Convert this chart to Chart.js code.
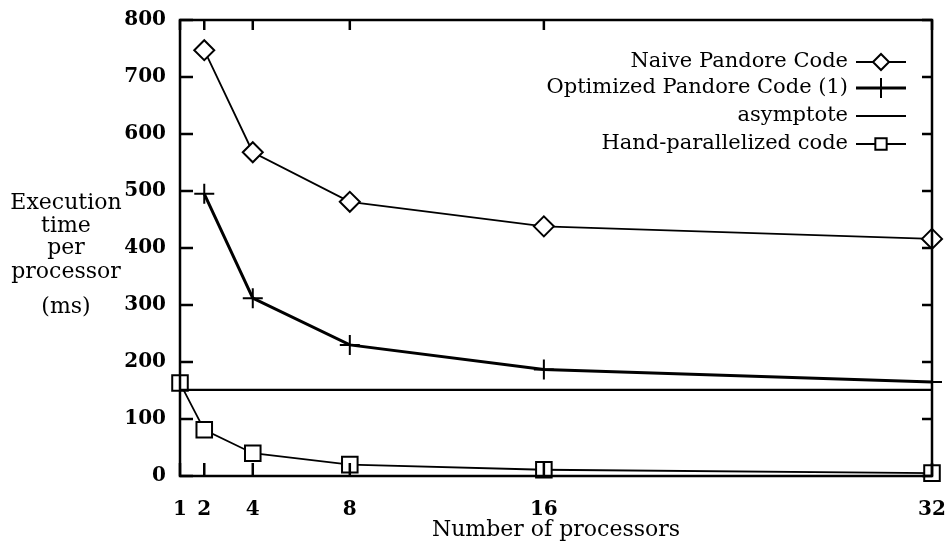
<!DOCTYPE html>
<html>
<head>
<meta charset="utf-8">
<script src="https://cdn.jsdelivr.net/npm/chart.js@4/dist/chart.umd.min.js"></script>
<style>
  html, body { margin: 0; padding: 0; background: #fff; }
  #wrap { width: 949px; height: 545px; }
</style>
</head>
<body>
<div id="wrap"><canvas id="perf"></canvas></div>
<script>
// values
const processors = [1, 2, 4, 8, 16, 32];
const naiveProcs = [2, 4, 8, 16, 32];
const naiveTimes = [747, 568, 481, 438, 416];
const optimizedProcs = [2, 4, 8, 16, 32];
const optimizedTimes = [495, 312, 230, 187, 165];
const asymptoteProcs = [1, 32];
const asymptoteTimes = [151, 151];
const handProcs = [1, 2, 4, 8, 16, 32];
const handTimes = [163, 81, 40, 20, 11, 5];
const yTicks = [0, 100, 200, 300, 400, 500, 600, 700, 800];

const FONT = "'DejaVu Serif', serif";

function pts(xs, ys) {
    return xs.map(function (x, i) { return { x: x, y: ys[i] }; });
}

// frame, inward ticks, y title and legend drawn on top
const decor = {
    id: "decor",
    afterDraw: function (chart) {
        const ctx = chart.ctx;
        const a = chart.chartArea;
        const xs = chart.scales.x, ys = chart.scales.y;
        ctx.save();
        ctx.strokeStyle = "#000";
        ctx.lineWidth = 2.5;
        ctx.strokeRect(a.left, a.top, a.right - a.left, a.bottom - a.top);

        ctx.beginPath();
        processors.forEach(function (p) {
            let px = xs.getPixelForValue(p);
            ctx.moveTo(px, a.bottom); ctx.lineTo(px, a.bottom - 13);
            ctx.moveTo(px, a.top); ctx.lineTo(px, a.top + 10);
        });
        yTicks.forEach(function (v) {
            let py = ys.getPixelForValue(v);
            ctx.moveTo(a.left, py); ctx.lineTo(a.left + 13, py);
            ctx.moveTo(a.right, py); ctx.lineTo(a.right - 10, py);
        });
        ctx.stroke();

        // y axis title, horizontal lines of text
        ctx.fillStyle = "#000";
        ctx.font = "22px " + FONT;
        ctx.textAlign = "center";
        ctx.textBaseline = "middle";
        [["Execution", 203], ["time", 226], ["per", 248], ["processor", 272], ["(ms)", 307]].forEach(function (l) {
            ctx.fillText(l[0], 66, l[1]);
        });

        // legend: text right aligned, sample on the right
        const rows = [62, 88, 116, 144];
        chart.data.datasets.forEach(function (ds, i) {
            let y = rows[i];
            ctx.fillStyle = "#000";
            ctx.font = "21px " + FONT;
            ctx.textAlign = "right";
            ctx.fillText(ds.label, 848, y);
            ctx.lineWidth = ds.borderWidth;
            ctx.beginPath();
            ctx.moveTo(856, y); ctx.lineTo(906, y);
            ctx.stroke();
            if (ds.pointRadius > 0) {
                ctx.fillStyle = "#fff";
                ctx.lineWidth = 2;
                Chart.helpers.drawPoint(ctx, {
                    pointStyle: ds.pointStyle,
                    radius: ds.pointStyle === "cross" ? 10 : 8,
                    rotation: 0,
                    borderWidth: 2
                }, 881, y);
            }
        });
        ctx.restore();
    }
};

let perf = new Chart(document.getElementById("perf"), {
    type: "line",
    data: {
        datasets: [
            {
                label: "Naive Pandore Code",
                data: pts(naiveProcs, naiveTimes),
                borderColor: "#000",
                borderWidth: 1.8,
                pointStyle: "rectRot",
                pointRadius: 10,
                pointBorderWidth: 2,
                pointBackgroundColor: "#fff",
                pointBorderColor: "#000",
                clip: false,
            },
            {
                label: "Optimized Pandore Code (1)",
                data: pts(optimizedProcs, optimizedTimes),
                borderColor: "#000",
                borderWidth: 3,
                pointStyle: "cross",
                pointRadius: 10,
                pointBorderWidth: 2,
                pointBorderColor: "#000",
                clip: false,
            },
            {
                label: "asymptote",
                data: pts(asymptoteProcs, asymptoteTimes),
                borderColor: "#000",
                borderWidth: 2.2,
                pointRadius: 0,
                clip: false,
            },
            {
                label: "Hand-parallelized code",
                data: pts(handProcs, handTimes),
                borderColor: "#000",
                borderWidth: 1.8,
                pointStyle: "rect",
                pointRadius: 11,
                pointBorderWidth: 2,
                pointBackgroundColor: "#fff",
                pointBorderColor: "#000",
                clip: false,
            },
        ],
    },
    options: {
        responsive: true,
        maintainAspectRatio: false,
        animation: false,
        layout: { padding: { top: 20, right: 17, left: 0, bottom: 0 } },
        plugins: {
            legend: { display: false },
            tooltip: { enabled: false },
        },
        scales: {
            x: {
                type: "linear",
                min: 1,
                max: 32,
                afterBuildTicks: function (s) {
                    s.ticks = processors.map(function (v) { return { value: v }; });
                },
                afterFit: function (s) {
                    s.height = 69;
                    s.paddingLeft = 0;
                    s.paddingRight = 0;
                },
                grid: { display: false, drawTicks: false },
                border: { display: false },
                ticks: {
                    color: "#000",
                    padding: 22,
                    autoSkip: false,
                    maxRotation: 0,
                    font: { family: FONT, size: 20, weight: "bold" },
                },
                title: {
                    display: true,
                    text: "Number of processors",
                    color: "#000",
                    padding: { top: 0, bottom: 2 },
                    font: { family: FONT, size: 22 },
                },
            },
            y: {
                min: 0,
                max: 800,
                afterFit: function (s) {
                    s.width = 180;
                    s.paddingTop = 0;
                    s.paddingBottom = 0;
                },
                grid: { display: false, drawTicks: false },
                border: { display: false },
                ticks: {
                    stepSize: 100,
                    color: "#000",
                    padding: 14,
                    font: { family: FONT, size: 20, weight: "bold" },
                },
            },
        },
    },
    plugins: [decor],
});
</script>
</body>
</html>
